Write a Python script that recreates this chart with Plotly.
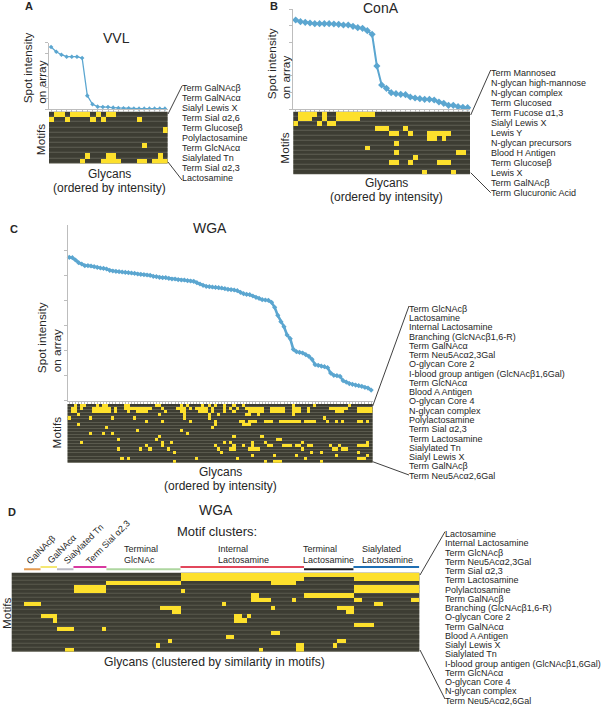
import plotly.graph_objects as go

W, H = 603, 706
FONT = "Liberation Sans"
TXT = "#262626"
BLUE = "#5ba6d0"
AXIS = "#bdbdbd"
DARK = "#3d3d33"
GRID = "#6e6e61"
YELLOW = "#fde02c"

# ---- intensity curves (arbitrary units)
INTENSITY_A = [187, 173, 164, 158, 158, 158, 154, 41, 15, 8, 7, 7, 5, 4, 3, 3, 2, 2, 2, 2, 2, 2, 2]
INTENSITY_B = [268, 263, 261, 259, 257, 257, 257, 257, 256, 255, 253, 253, 249, 245, 243, 236, 225,
               130, 73, 63, 50, 47, 45, 44, 37, 34, 32, 30, 30, 28, 22, 18, 12, 12, 8, 6, 5]
INTENSITY_C = [430, 429, 422, 414, 410, 405, 405, 404, 402, 400, 398, 397, 395, 391, 389, 388, 387,
               386, 385, 384, 383, 382, 380, 379, 378, 377, 376, 373, 372, 370, 369, 369, 367, 365,
               365, 363, 362, 362, 360, 359, 358, 354, 350, 346, 343, 342, 341, 340, 339, 338, 336,
               334, 333, 332, 330, 325, 321, 319, 318, 314, 310, 307, 303, 302, 301, 295, 280, 256,
               237, 222, 197, 186, 154, 147, 145, 143, 138, 133, 124, 108, 106, 104, 102, 99, 83, 76,
               75, 73, 60, 56, 51, 49, 47, 45, 43, 40, 38, 32]

# ---- motif labels
LABELS_A = ["Term GalNAcβ", "Term GalNAcα", "Sialyl Lewis X", "Term Sial α2,6", "Term Glucoseβ",
            "Polylactosamine", "Term GlcNAcα", "Sialylated Tn", "Term Sial α2,3", "Lactosamine"]
LABELS_B = ["Term Mannoseα", "N-glycan high-mannose", "N-glycan complex", "Term Glucoseα",
            "Term Fucose α1,3", "Sialyl Lewis X", "Lewis Y", "N-glycan precursors", "Blood H Antigen",
            "Term Glucoseβ", "Lewis X", "Term GalNAcβ", "Term Glucuronic Acid"]
LABELS_C = ["Term GlcNAcβ", "Lactosamine", "Internal Lactosamine", "Branching (GlcNAcβ1,6-R)",
            "Term GalNAcα", "Term Neu5Acα2,3Gal", "O-glycan Core 2",
            "I-blood group antigen (GlcNAcβ1,6Gal)", "Term GlcNAcα", "Blood A Antigen",
            "O-glycan Core 4", "N-glycan complex", "Polylactosamine", "Term Sial α2,3",
            "Term Lactosamine", "Sialylated Tn", "Sialyl Lewis X", "Term GalNAcβ", "Term Neu5Acα2,6Gal"]
LABELS_D = ["Lactosamine", "Internal Lactosamine", "Term GlcNAcβ", "Term Neu5Acα2,3Gal", "Term Sial α2,3",
            "Term Lactosamine", "Polylactosamine", "Term GalNAcβ", "Branching (GlcNAcβ1,6-R)",
            "O-glycan Core 2", "Term GalNAcα", "Blood A Antigen", "Sialyl Lewis X", "Sialylated Tn",
            "I-blood group antigen (GlcNAcβ1,6Gal)", "Term GlcNAcα", "O-glycan Core 4",
            "N-glycan complex", "Term Neu5Acα2,6Gal"]

# ---- motif membership: yellow columns in each row
MOTIFS_A = ["1-2,4-7,9,11-12", "0,3,8,10,17", "", "22", "", "", "18", "", "7,11-12,21",
            "6,10-13,17-18,20-22"]
MOTIFS_B = ["1-4,6,9-16", "1-3,6,9-12,13", "0,5,7-8", "17-19,23", "20-21,24,28-32", "28-29,31", "21",
            "15", "21,34-35", "25", "20-21,24,30-32", "", "27,33"]
MOTIFS_C = ["2,4-5,9,11-12,18-19,28-29,36,38,43,45,47,50,53,56,72,79,90",
            "1-2,4,8-13,15,18-26,30,35-37,39,41-44,46,50,52,54,57-62,65-69,72-74,77,84-89,93-97",
            "1-2,8-13,15,19,22-25,31,36-37,42-44,46,50,53,58-62,65-69,72-74,77,86-88,93-97",
            "3,29,37,45,48,57-58,61,72",
            "0,7,14,21,37,45,82",
            "25,30,39,47,55-56,58-60,63-65,68-71,72-74,76-79,83,86,88,93-94,96",
            "3,47,56-58", "12,46", "22,36", "7,11,14,38", "29,53,62", "16,28,67-68",
            "4,30,33,50,52,59,63,75,96", "25,30,47,53,56,59,64-65,69-71,73-74,77-78,84,87,93-96",
            "16,23,26,32,48,52-53,58-61,75,85-86,88-89", "34,49,78,81,93", "59,66,73,86,96",
            "17,19,41,54,76,93-95", "34,63,66-68,81"]
MOTIFS_D = ["41-98", "41-70,83-98", "23-40,63-68", "15-22,83-98", "15-22,41,83-98", "58-59,71-82",
            "58-62,68,83-84,97-98", "3-6,51,88-89", "36-40,63,79-82", "39-40,81-82", "7-10,54-55,57",
            "10,54-56", "83-87", "11-14,22", "63-64", "52-53", "38,79-80", "35,69-70,78", "13-14,60,69-70"]

# ---- cluster bars of panel D
CLUSTER_START = [3, 7, 11, 15, 23, 41, 71, 83]
CLUSTER_END = [6, 10, 14, 22, 40, 70, 82, 98]
CLUSTER_COLOR = ["#e39a50", "#f5e873", "#b9b9c2", "#d83aa0", "#aed6a0", "#e2475c", "#1c1c1c", "#1f6fb4"]

N_A, N_B, N_C, N_D = 23, 37, 98, 99


def parse(rows, ncol):
    out = []
    for r in rows:
        line = [None] * ncol
        for part in filter(None, r.split(",")):
            a, _, b = part.partition("-")
            for c in range(int(a), int(b or a) + 1):
                line[c] = 1
        out.append(line)
    return out


def px(x):
    return x / W


def py(y):
    return 1 - y / H


fig = go.Figure()
layout = dict(
    width=W, height=H, margin=dict(l=0, r=0, t=0, b=0), paper_bgcolor="white", plot_bgcolor="rgba(0,0,0,0)",
    showlegend=False, font=dict(family=FONT, color=TXT),
)
shapes, annotations = [], []
axis_no = [0]


def text(x, y, s, size=9, angle=0, anchor="center", bold=False):
    annotations.append(dict(
        x=px(x), y=py(y), xref="paper", yref="paper", text=f"<b>{s}</b>" if bold else s, showarrow=False,
        xanchor=anchor, yanchor="middle", textangle=angle, font=dict(size=size, family=FONT, color=TXT),
        borderpad=0, borderwidth=0,
    ))


def seg(x0, y0, x1, y1):
    shapes.append(dict(type="line", xref="paper", yref="paper", x0=px(x0), y0=py(y0), x1=px(x1), y1=py(y1),
                       line=dict(color="#2a2a2a", width=0.9)))


def new_axes():
    axis_no[0] += 1
    return axis_no[0]


def line_panel(values, left, right, top, bottom, ymax, dtick, lw, ms, awidth):
    k = new_axes()
    n = len(values)
    fig.add_trace(go.Scatter(
        x=list(range(n)), y=values, mode="lines+markers", xaxis=f"x{k}", yaxis=f"y{k}", hoverinfo="skip",
        line=dict(color=BLUE, width=lw), marker=dict(color=BLUE, size=ms, symbol="diamond"), cliponaxis=False,
    ))
    layout[f"xaxis{k}"] = dict(domain=[px(left), px(right)], range=[-0.5, n - 0.5], anchor=f"y{k}", showgrid=False,
                               zeroline=False, showticklabels=False, ticks="outside", ticklen=2, tickwidth=0.7,
                               tickcolor=AXIS, dtick=1, tick0=0, showline=True, linecolor=AXIS, linewidth=awidth)
    layout[f"yaxis{k}"] = dict(domain=[py(bottom), py(top)], range=[0, ymax], anchor=f"x{k}", showgrid=False,
                               zeroline=False, showticklabels=False, ticks="outside", ticklen=3, tickwidth=1,
                               tickcolor=AXIS, dtick=dtick, tick0=0, showline=True, linecolor=AXIS, linewidth=awidth)


def heat_panel(rows, ncol, left, right, top, bottom, gap):
    k = new_axes()
    z = parse(rows, ncol)
    nrow = len(rows)
    shapes.append(dict(type="rect", xref="paper", yref="paper", x0=px(left), x1=px(right), y0=py(bottom), y1=py(top),
                       fillcolor=GRID, line=dict(width=0), layer="below"))
    fig.add_trace(go.Heatmap(z=[[0] * ncol for _ in rows], xaxis=f"x{k}", yaxis=f"y{k}", showscale=False, hoverinfo="skip",
                             colorscale=[[0, DARK], [1, DARK]], zmin=0, zmax=1, ygap=gap))
    fig.add_trace(go.Heatmap(z=z, xaxis=f"x{k}", yaxis=f"y{k}", showscale=False, hoverinfo="skip",
                             colorscale=[[0, YELLOW], [1, YELLOW]], zmin=0, zmax=1))
    layout[f"xaxis{k}"] = dict(domain=[px(left), px(right)], range=[-0.5, ncol - 0.5], anchor=f"y{k}", visible=False)
    layout[f"yaxis{k}"] = dict(domain=[py(bottom), py(top)], range=[nrow - 0.5, -0.5], anchor=f"x{k}", visible=False)
    return k


def stacked_labels(labels, x, first, last, size=9):
    step = (last - first) / (len(labels) - 1)
    for i, s in enumerate(labels):
        text(x, first + i * step, s, size=size, anchor="left")


# Panel A
line_panel(INTENSITY_A, 48.5, 167.5, 42.7, 109.3, 200, 33.33, 1.3, 3.5, 1)
heat_panel(MOTIFS_A, N_A, 49, 167.5, 111.7, 163.4, 0.7)
text(29, 6, "A", size=11, bold=True)
text(116, 37.7, "VVL", size=14)
text(28.3, 68, "Spot intensity", size=11.8, angle=-90)
text(41.7, 82, "on array", size=11.8, angle=-90)
text(40.7, 139.5, "Motifs", size=11.8, angle=-90)
text(109, 174, "Glycans", size=12)
text(109, 187.7, "(ordered by intensity)", size=12)
stacked_labels(LABELS_A, 182.3, 87.7, 178.3)
seg(168, 114, 182, 86)
seg(168, 162, 182, 180)

# Panel B
line_panel(INTENSITY_B, 293.3, 470, 9.3, 109.3, 300, 50, 2.0, 5.5, 1)
heat_panel(MOTIFS_B, N_B, 293.3, 470, 111.7, 174.3, 0.7)
text(274, 6, "B", size=11, bold=True)
text(380.7, 8, "ConA", size=14)
text(271.7, 63.5, "Spot intensity", size=11.8, angle=-90)
text(286, 78, "on array", size=11.8, angle=-90)
text(285, 147.7, "Motifs", size=11.8, angle=-90)
text(386.7, 182.7, "Glycans", size=12)
text(386.7, 196.7, "(ordered by intensity)", size=12)
stacked_labels(LABELS_B, 491, 73.3, 192.7)
seg(470.7, 115, 490.7, 70)
seg(470.7, 172.7, 490.7, 192.7)

# Panel C
line_panel(INTENSITY_C, 67.7, 372.7, 225, 400.7, 527, 75.3, 2.6, 4, 1.3)
heat_panel(MOTIFS_C, N_C, 67.5, 372.7, 404, 462.7, 0.6)
text(13.7, 229, "C", size=11, bold=True)
text(210.3, 227.7, "WGA", size=14)
text(41.7, 337.5, "Spot intensity", size=11.8, angle=-90)
text(57.3, 351, "on array", size=11.8, angle=-90)
text(56.7, 432.7, "Motifs", size=11.8, angle=-90)
text(220, 471.7, "Glycans", size=12)
text(220, 485.7, "(ordered by intensity)", size=12)
stacked_labels(LABELS_C, 409, 308.7, 475.7)
seg(372.7, 406, 409, 306)
seg(372.7, 461.7, 409, 475)

# Panel D
d_axis = heat_panel(MOTIFS_D, N_D, 11.7, 419.3, 572.7, 651.7, 0.6)
text(12, 511.7, "D", size=11, bold=True)
text(216, 510, "WGA", size=14)
text(216.7, 531, "Motif clusters:", size=13)
text(7, 613, "Motifs", size=11.8, angle=-90)
text(214.7, 661.7, "Glycans (clustered by similarity in motifs)", size=12.2)
for i, (a, b, c) in enumerate(zip(CLUSTER_START, CLUSTER_END, CLUSTER_COLOR)):
    yy = 569.3 if i % 2 == 0 else 567
    shapes.append(dict(type="line", xref=f"x{d_axis}", yref="paper", x0=a - 0.5, x1=b + 0.5, y0=py(yy), y1=py(yy),
                       line=dict(color=c, width=2)))
text(40.7, 550, "GalNAcβ", size=9, angle=-45)
text(62, 549.3, "GalNAcα", size=9, angle=-45)
text(83.7, 544.3, "Sialylated Tn", size=9, angle=-45)
text(108.3, 542, "Term Sial α2,3", size=9, angle=-45)
for x, a, b in [(124.3, "Terminal", "GlcNAc"), (218, "Internal", "Lactosamine"),
                (302.7, "Terminal", "Lactosamine"), (362.3, "Sialylated", "Lactosamine")]:
    text(x, 549.3, a, size=9, anchor="left")
    text(x, 560, b, size=9, anchor="left")
stacked_labels(LABELS_D, 445, 534, 700.7)
seg(420, 575, 445, 531.7)
seg(420, 650, 445, 699)

layout["shapes"] = shapes
layout["annotations"] = annotations
fig.update_layout(**layout)
fig.write_html("out.html", config={"displayModeBar": False}, post_script="document.body.style.margin='0';")
